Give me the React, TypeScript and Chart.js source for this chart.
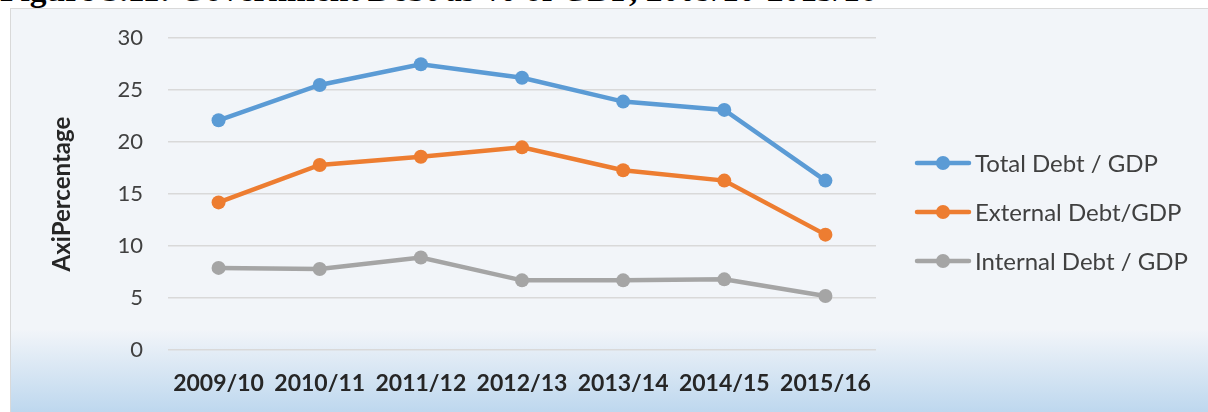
import React, { useEffect, useRef } from "react";
import { Chart, registerables } from "chart.js";

Chart.register(...registerables);

const categories = ["2009/10", "2010/11", "2011/12", "2012/13", "2013/14", "2014/15", "2015/16"];
const totalDebt = [22.1, 25.5, 27.5, 26.2, 23.9, 23.1, 16.3];
const externalDebt = [14.2, 17.8, 18.6, 19.5, 17.3, 16.3, 11.1];
const internalDebt = [7.9, 7.8, 8.9, 6.7, 6.7, 6.8, 5.2];
const seriesLabels = ["Total Debt / GDP", "External Debt/GDP", "Internal Debt / GDP"];
const seriesColors = ["#5B9BD5", "#ED7D31", "#A5A5A5"];
const yTitle = "AxiPercentage";
const figureTitle = "Figure 3.11: Government Debt as % of GDP, 2009/10-2015/16";

const legendPlugin = {
  id: "customLegend",
  afterDraw(chart: any) {
    const ctx = chart.ctx;
    const ys = [163, 212, 261];
    ctx.save();
    chart.data.datasets.forEach((ds: any, i: number) => {
      const y = ys[i];
      ctx.strokeStyle = ds.borderColor;
      ctx.lineWidth = 4.5;
      ctx.lineCap = "round";
      ctx.beginPath();
      ctx.moveTo(917, y);
      ctx.lineTo(969, y);
      ctx.stroke();
      ctx.fillStyle = ds.borderColor;
      ctx.beginPath();
      ctx.arc(943, y, 7, 0, Math.PI * 2);
      ctx.fill();
      ctx.fillStyle = "#404040";
      ctx.font = "24px Lato";
      ctx.textBaseline = "middle";
      ctx.textAlign = "left";
      ctx.fillText(ds.label, 975, y + 1);
    });
    ctx.restore();
  },
};

export default function App() {
  const ref = useRef<HTMLCanvasElement | null>(null);
  useEffect(() => {
    if (!ref.current) return;
    const data = [totalDebt, externalDebt, internalDebt];
    const chart = new Chart(ref.current, {
      type: "line",
      data: {
        labels: categories,
        datasets: data.map((d, i) => ({
          label: seriesLabels[i],
          data: d,
          borderColor: seriesColors[i],
          backgroundColor: seriesColors[i],
          pointBackgroundColor: seriesColors[i],
          pointBorderColor: seriesColors[i],
          borderWidth: 4.5,
          pointRadius: 7,
          pointBorderWidth: 0,
          tension: 0,
          fill: false,
        })),
      },
      options: {
        responsive: false,
        animation: false,
        layout: { padding: { left: 0, top: 38, right: 332, bottom: 0 } },
        plugins: { legend: { display: false }, tooltip: { enabled: false } },
        scales: {
          x: {
            offset: true,
            grid: { display: false, drawTicks: false },
            border: { display: false },
            ticks: {
              color: "#262626",
              font: { family: "Lato", size: 23, weight: "bold" },
              padding: 20,
              maxRotation: 0,
              autoSkip: false,
            },
            afterFit(s: any) {
              s.height = 62;
            },
          },
          y: {
            min: 0,
            max: 30,
            grid: { color: "#D9D9D9", lineWidth: 1.5, drawTicks: false },
            border: { display: false },
            ticks: {
              stepSize: 5,
              color: "#404040",
              font: { family: "Lato", size: 22 },
              padding: 25,
            },
            title: {
              display: true,
              text: yTitle,
              color: "#262626",
              font: { family: "Lato", size: 24, weight: "bold" },
              padding: { top: 48, bottom: 0 },
            },
            afterFit(s: any) {
              s.width = 168;
            },
          },
        },
      },
      plugins: [legendPlugin],
    });
    return () => chart.destroy();
  }, []);

  return (
    <div
      style={{
        position: "fixed",
        left: 0,
        top: 0,
        width: 1208,
        height: 412,
        overflow: "hidden",
        background: "#ffffff",
      }}
    >
      <div
        style={{
          position: "absolute",
          left: 0,
          top: -27,
          whiteSpace: "nowrap",
          fontFamily: "'Liberation Serif', 'Times New Roman', serif",
          fontWeight: "bold",
          fontSize: 33.5,
          lineHeight: "34px",
          color: "#000",
        }}
      >
        {figureTitle}
      </div>
      <div
        style={{
          position: "absolute",
          left: 10,
          top: 8,
          width: 1220,
          height: 430,
          border: "1px solid #D9D9D9",
          background:
            "linear-gradient(to bottom, #F2F5F9 0px, #F2F5F9 320px, #BDD7EE 404px, #BDD7EE 430px)",
        }}
      />
      <canvas
        ref={ref}
        width={1208}
        height={412}
        style={{ position: "absolute", left: 0, top: 0 }}
      />
    </div>
  );
}
